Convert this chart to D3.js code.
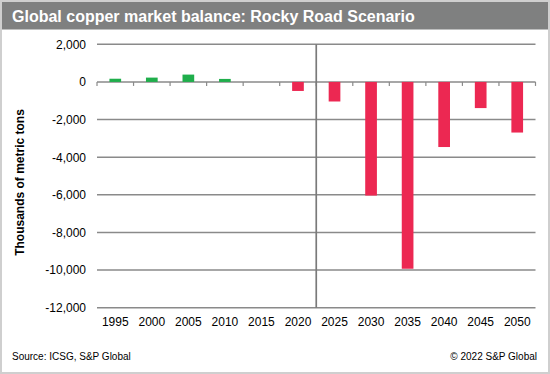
<!DOCTYPE html>
<html>
<head>
<meta charset="utf-8">
<script src="https://cdn.jsdelivr.net/npm/d3@7"></script>
<style>
  html, body { margin: 0; padding: 0; background: #fff; }
  svg { display: block; font-family: "Liberation Sans", Arial, sans-serif; }
</style>
</head>
<body>
<svg id="chart" width="550" height="374"></svg>
<script>
// chart data (thousands of metric tons)
var years = ["1995", "2000", "2005", "2010", "2015", "2020", "2025", "2030", "2035", "2040", "2045", "2050"];
var balance = [170, 230, 390, 160, 0, -480, -1040, -6040, -9930, -3460, -1390, -2690];
var yTicks = [2000, 0, -2000, -4000, -6000, -8000, -10000, -12000];
var title = "Global copper market balance: Rocky Road Scenario";
var yTitle = "Thousands of metric tons";
var source = "Source: ICSG, S&P Global";
var copyright = "\u00a9 2022 S&P Global";

var svg = d3.select("#chart");
var W = 550, H = 374;
var margin = {top: 44.3, right: 14.5, bottom: 66.3, left: 97};

// frame + header
svg.append("rect")
    .attr("x", 1).attr("y", 1)
    .attr("width", W - 2).attr("height", H - 2)
    .attr("fill", "#fff")
    .attr("stroke", "#cfcfcf")
    .attr("stroke-width", 2);
svg.append("rect")
    .attr("x", 2).attr("y", 2)
    .attr("width", W - 4).attr("height", 27.5)
    .attr("fill", "#7f8080");
svg.append("text")
    .attr("x", 12).attr("y", 22)
    .attr("fill", "#fff")
    .attr("font-size", 16)
    .attr("font-weight", "bold")
    .text(title);

var x = d3.scaleBand()
    .domain(years)
    .range([margin.left, W - margin.right])
    .paddingInner(0.68)
    .paddingOuter(0.34);
var xb = d3.scaleBand()
    .domain(years)
    .range([margin.left, W - margin.right])
    .padding(0);
var y = d3.scaleLinear()
    .domain([-12000, 2000])
    .range([H - margin.bottom, margin.top]);

var lineColor = "#8a8a8a";

// gridlines
svg.append("g")
    .selectAll("line")
    .data(yTicks)
    .enter()
    .append("line")
        .attr("x1", margin.left)
        .attr("x2", W - margin.right)
        .attr("y1", function(d) { return y(d); })
        .attr("y2", function(d) { return y(d); })
        .attr("stroke", lineColor)
        .attr("stroke-width", 1.5);

// ticks under the zero line, at category boundaries
var edges = years.map(function(d) { return xb(d); }).concat([W - margin.right]);
svg.append("g")
    .selectAll("line")
    .data(edges)
    .enter()
    .append("line")
        .attr("x1", function(d) { return d; })
        .attr("x2", function(d) { return d; })
        .attr("y1", y(0))
        .attr("y2", y(0) + 4)
        .attr("stroke", lineColor)
        .attr("stroke-width", 1.2);

// divider between history and forecast
svg.append("line")
    .attr("x1", xb("2025")).attr("x2", xb("2025"))
    .attr("y1", y(2000)).attr("y2", y(-12000))
    .attr("stroke", "#7a7a7a")
    .attr("stroke-width", 1.7);

// bars
svg.append("g")
    .selectAll("rect")
    .data(years)
    .enter()
    .append("rect")
        .attr("x", function(d) { return x(d); })
        .attr("width", x.bandwidth())
        .attr("y", function(d, i) { return y(Math.max(0, balance[i])); })
        .attr("height", function(d, i) { return Math.abs(y(balance[i]) - y(0)); })
        .attr("fill", function(d, i) { return balance[i] >= 0 ? "#1fae4b" : "#ec2852"; });

// axes (labels only)
var fmt = function(d) { return d3.format(",")(d).replace("\u2212", "-"); };
var yAxis = svg.append("g")
    .attr("transform", "translate(" + margin.left + ",0)")
    .call(d3.axisLeft(y).tickValues(yTicks).tickFormat(fmt).tickSize(0).tickPadding(11));
var xAxis = svg.append("g")
    .attr("transform", "translate(0," + y(-12000) + ")")
    .call(d3.axisBottom(x).tickSize(0).tickPadding(10));
[yAxis, xAxis].forEach(function(a) {
    a.select(".domain").remove();
    a.selectAll("text")
        .attr("font-size", 12)
        .attr("font-family", "\"Liberation Sans\", Arial, sans-serif")
        .attr("fill", "#000");
});

svg.append("text")
    .attr("transform", "translate(20,182.5) rotate(-90)")
    .attr("text-anchor", "middle")
    .attr("dy", "0.35em")
    .attr("font-size", 12)
    .attr("font-weight", "bold")
    .text(yTitle);

// footer
svg.append("text")
    .attr("x", 12).attr("y", 359.5)
    .attr("font-size", 10)
    .text(source);
svg.append("text")
    .attr("x", 537).attr("y", 359.5)
    .attr("text-anchor", "end")
    .attr("font-size", 10)
    .text(copyright);
</script>
</body>
</html>
